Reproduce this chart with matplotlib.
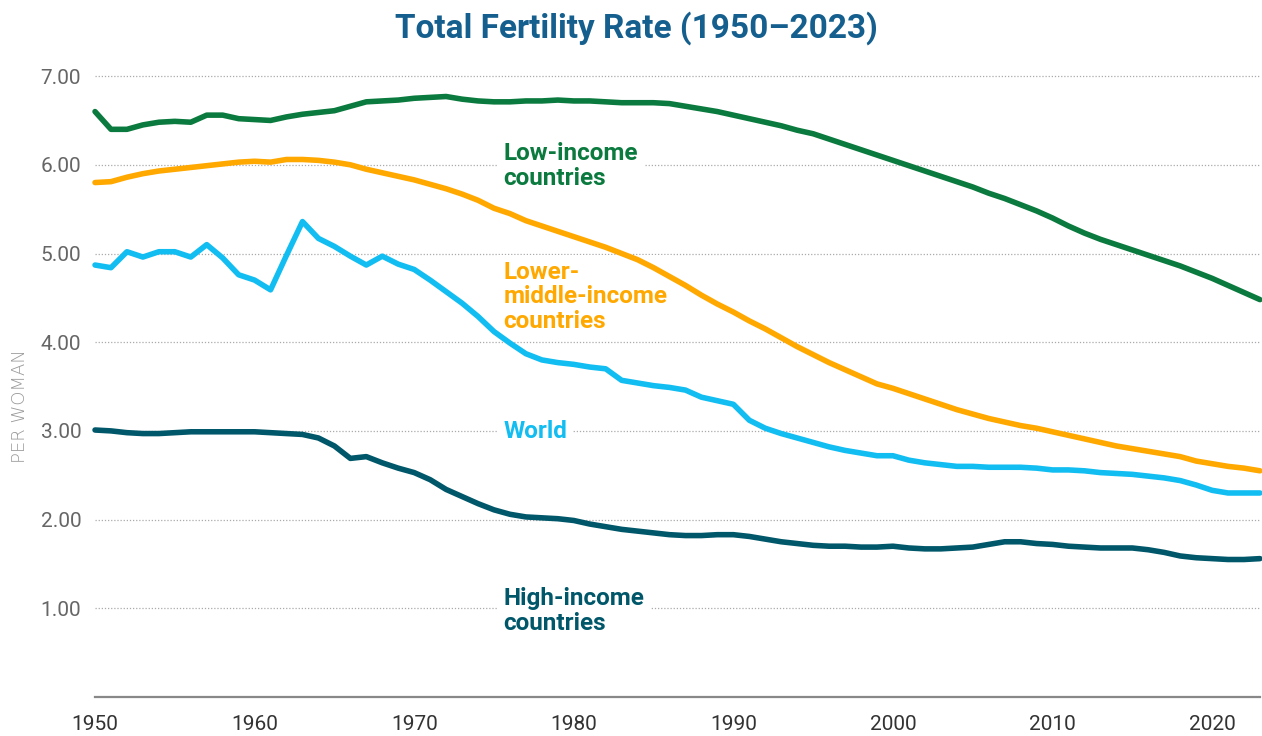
import matplotlib
matplotlib.use("Agg")
import matplotlib.pyplot as plt

years = list(range(1950, 2024))

# total fertility rate, births per woman
low_income = [6.60, 6.40, 6.40, 6.45, 6.48, 6.49, 6.48, 6.56, 6.56, 6.52,
              6.51, 6.50, 6.54, 6.57, 6.59, 6.61, 6.66, 6.71, 6.72, 6.73,
              6.75, 6.76, 6.77, 6.74, 6.72, 6.71, 6.71, 6.72, 6.72, 6.73,
              6.72, 6.72, 6.71, 6.70, 6.70, 6.70, 6.69, 6.66, 6.63, 6.60,
              6.56, 6.52, 6.48, 6.44, 6.39, 6.35, 6.29, 6.23, 6.17, 6.11,
              6.05, 5.99, 5.93, 5.87, 5.81, 5.75, 5.68, 5.62, 5.55, 5.48,
              5.40, 5.31, 5.23, 5.16, 5.10, 5.04, 4.98, 4.92, 4.86, 4.79,
              4.72, 4.64, 4.56, 4.48]

lower_middle = [5.80, 5.81, 5.86, 5.90, 5.93, 5.95, 5.97, 5.99, 6.01, 6.03,
                6.04, 6.03, 6.06, 6.06, 6.05, 6.03, 6.00, 5.95, 5.91, 5.87,
                5.83, 5.78, 5.73, 5.67, 5.60, 5.51, 5.45, 5.37, 5.31, 5.25,
                5.19, 5.13, 5.07, 5.00, 4.93, 4.84, 4.74, 4.64, 4.53, 4.43,
                4.34, 4.24, 4.15, 4.05, 3.95, 3.86, 3.77, 3.69, 3.61, 3.53,
                3.48, 3.42, 3.36, 3.30, 3.24, 3.19, 3.14, 3.10, 3.06, 3.03,
                2.99, 2.95, 2.91, 2.87, 2.83, 2.80, 2.77, 2.74, 2.71, 2.66,
                2.63, 2.60, 2.58, 2.55]

world = [4.87, 4.84, 5.02, 4.96, 5.02, 5.02, 4.96, 5.10, 4.95, 4.76,
         4.70, 4.59, 4.98, 5.36, 5.17, 5.08, 4.97, 4.87, 4.97, 4.88,
         4.82, 4.70, 4.57, 4.44, 4.29, 4.12, 3.99, 3.87, 3.80, 3.77,
         3.75, 3.72, 3.70, 3.57, 3.54, 3.51, 3.49, 3.46, 3.38, 3.34,
         3.30, 3.12, 3.03, 2.97, 2.92, 2.87, 2.82, 2.78, 2.75, 2.72,
         2.72, 2.67, 2.64, 2.62, 2.60, 2.60, 2.59, 2.59, 2.59, 2.58,
         2.56, 2.56, 2.55, 2.53, 2.52, 2.51, 2.49, 2.47, 2.44, 2.39,
         2.33, 2.30, 2.30, 2.30]

high_income = [3.01, 3.00, 2.98, 2.97, 2.97, 2.98, 2.99, 2.99, 2.99, 2.99,
               2.99, 2.98, 2.97, 2.96, 2.92, 2.83, 2.69, 2.71, 2.64, 2.58,
               2.53, 2.45, 2.34, 2.26, 2.18, 2.11, 2.06, 2.03, 2.02, 2.01,
               1.99, 1.95, 1.92, 1.89, 1.87, 1.85, 1.83, 1.82, 1.82, 1.83,
               1.83, 1.81, 1.78, 1.75, 1.73, 1.71, 1.70, 1.70, 1.69, 1.69,
               1.70, 1.68, 1.67, 1.67, 1.68, 1.69, 1.72, 1.75, 1.75, 1.73,
               1.72, 1.70, 1.69, 1.68, 1.68, 1.68, 1.66, 1.63, 1.59, 1.57,
               1.56, 1.55, 1.55, 1.56]

y_ticks = [1, 2, 3, 4, 5, 6, 7]
x_ticks = [1950, 1960, 1970, 1980, 1990, 2000, 2010, 2020]

plt.rcParams['font.family'] = ['Roboto', 'DejaVu Sans']

fig = plt.figure(figsize=(12.62, 7.36), dpi=100)
ax = fig.add_axes([0.0753, 0.053, 0.9231, 0.8677])

series = [
    (low_income, '#0b7a3e', "Low-income\ncountries", 5.99),
    (lower_middle, '#ffa800', "Lower-\nmiddle-income\ncountries", 4.51),
    (world, '#12bdf2', "World", 2.99),
    (high_income, '#00576a', "High-income\ncountries", 0.97),
]

for vals, col, label, ly in series:
    ax.plot(years, vals, color=col, lw=4, solid_capstyle='round',
            solid_joinstyle='round', zorder=3, clip_on=False)
    ax.text(1975.6, ly, label, color=col, fontsize=17.5, fontweight='bold',
            ha='left', va='center', linespacing=1.1, zorder=2,
            bbox=dict(facecolor='white', edgecolor='none', pad=4))

ax.set_xlim(1950, 2023)
ax.set_ylim(0, 7.2)
ax.set_yticks(y_ticks)
ax.set_yticklabels(["%.2f" % v for v in y_ticks])
ax.set_xticks(x_ticks)

ax.grid(axis='y', color='#aaaaaa', linestyle=(0, (1, 1.5)), lw=0.9, zorder=0)
ax.grid(axis='x', visible=False)
ax.set_axisbelow(True)

for s in ['top', 'right', 'left']:
    ax.spines[s].set_visible(False)
ax.spines['bottom'].set_color('#888888')
ax.spines['bottom'].set_linewidth(1.6)

ax.tick_params(axis='y', length=0, pad=10, labelsize=15, labelcolor='#666666')
ax.tick_params(axis='x', length=0, pad=13, labelsize=15, labelcolor='#333333')

ax.set_ylabel("PER WOMAN", color='#999999', fontsize=13,
              family=['DejaVu Sans'], fontweight='light')
ax.yaxis.set_label_coords(-0.057, 0.455)

fig.text(0.504, 0.962, "Total Fertility Rate (1950\u20132023)", ha='center',
         va='center', fontsize=24, fontweight='bold', color='#155f8e')

fig.savefig("out.png", dpi=100)
